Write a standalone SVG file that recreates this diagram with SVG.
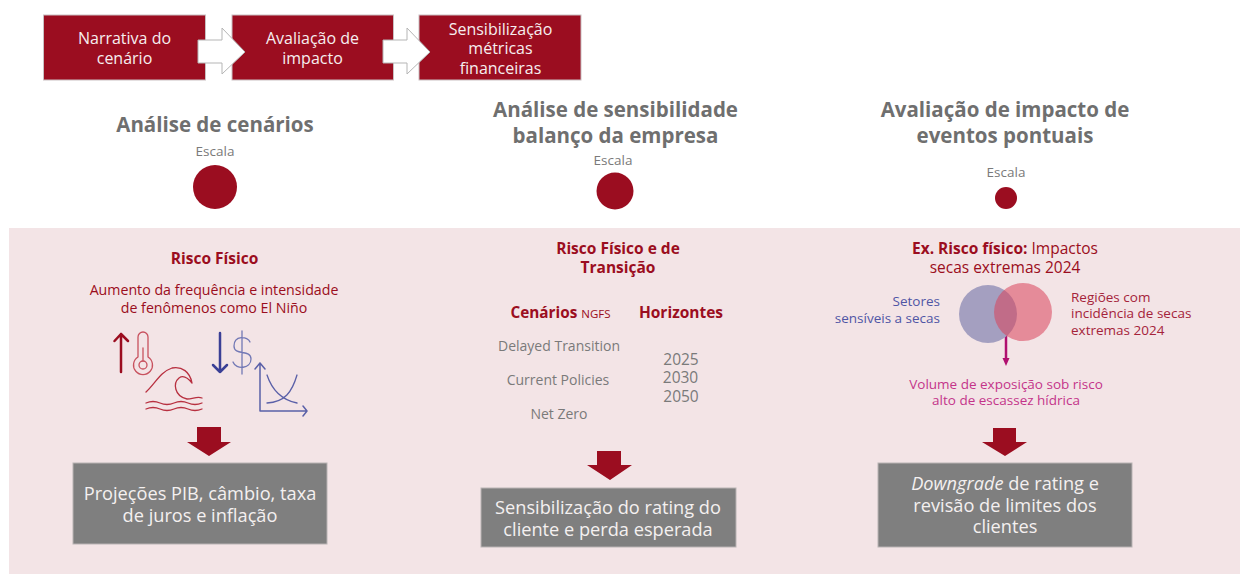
<svg xmlns="http://www.w3.org/2000/svg" width="1240" height="574" viewBox="0 0 1240 574">
<style>
text{font-family:"Open Sans","Liberation Sans",sans-serif;text-anchor:middle}
.step{fill:#9b0d20;stroke:#c9c0c2;stroke-width:1}
.st{fill:#f6eeef;font-size:16px}
.flow{fill:#fff;stroke:#b5b5b5;stroke-width:1}
.h{fill:#6f6f6f;font-size:20.500px;font-weight:700}
.esc{fill:#7a7a7a;font-size:13.500px}
.dot{fill:#9b0d20}
.r{fill:#9b0d20;font-size:14.200px}
.rb{fill:#9b0d20;font-size:15.500px;font-weight:700}
.g{fill:#7a7a7a;font-size:14px}
.n{fill:#7a7a7a;font-size:15.500px}
.dn{fill:#9b0d20}
.box{fill:#7f7f7f;stroke:#b9b3b4;stroke-width:1}
.bt{fill:#f4f0f0;font-size:18.200px}
.ico{fill:none;stroke-linecap:round;stroke-linejoin:round}
.lab{font-size:13.500px}
</style>
<rect width="1240" height="574" fill="#fff"/>
<rect id="panel" x="9" y="228" width="1231" height="346" fill="#f3e4e6"/>
<g id="step1"><rect class="step" x="43.500" y="15" width="162" height="65"/><text class="st" x="124.500" y="43.500">Narrativa do</text><text class="st" x="124.500" y="63.500">cenário</text></g>
<g id="step2"><rect class="step" x="232" y="15" width="161.500" height="65"/><text class="st" x="312.500" y="43.500">Avaliação de</text><text class="st" x="312.500" y="63.500">impacto</text></g>
<g id="step3"><rect class="step" x="419" y="15" width="162" height="65"/><text class="st" x="500.500" y="34.500">Sensibilização</text><text class="st" x="500.500" y="53.500">métricas</text><text class="st" x="500.500" y="73.500">financeiras</text></g>
<g id="connectors">
<path class="flow" d="M198 40H222V28L245 52 222 74V63H198Z"/>
<path class="flow" d="M383 40H407V28L430 52 407 74V63H383Z"/>
<path class="dn" d="M197 427H221V442H231L209 456 187 442H197Z"/>
<path class="dn" d="M597 451H621V465H632L610 480 587 465H597Z"/>
<path class="dn" d="M993 428H1016V442H1027L1005 456 982 442H993Z"/>
<path d="M1006 327V360" stroke="#b00f6f" stroke-width="2.500" fill="none"/>
<path d="M1002.500 358H1009.500L1006 366Z" fill="#b00f6f"/>
</g>
<g id="col1-head"><text class="h" x="215" y="131.500">Análise de cenários</text><text class="esc" x="215" y="155.500">Escala</text><circle class="dot" cx="215" cy="187" r="22"/></g>
<g id="col2-head"><text class="h" x="615.500" y="116.500">Análise de sensibilidade</text><text class="h" x="615.500" y="142.500">balanço da empresa</text><text class="esc" x="613" y="164.500">Escala</text><circle class="dot" cx="615" cy="191" r="18.500"/></g>
<g id="col3-head"><text class="h" x="1005" y="116.500">Avaliação de impacto de</text><text class="h" x="1005" y="142.500">eventos pontuais</text><text class="esc" x="1006" y="176.500">Escala</text><circle class="dot" cx="1006" cy="198" r="11"/></g>
<g id="col1">
<text class="rb" x="214.500" y="263.500">Risco Físico</text>
<text class="r" x="214" y="294.500">Aumento da frequência e intensidade</text>
<text class="r" x="214" y="312.500">de fenômenos como El Niño</text>
<g id="icons">
<path class="ico" d="M121 372V334M114.500 341L121 334 128 341" stroke="#9b0d20" stroke-width="2.500"/>
<path class="ico" d="M138 357V337a5 5 0 0 1 10 0V357a9.500 9.500 0 1 1-10 0Z" stroke="#c8525f" stroke-width="1.300"/>
<circle class="ico" cx="143" cy="365" r="4" stroke="#c8525f" stroke-width="1.300"/>
<path class="ico" d="M143 348V361" stroke="#c8525f" stroke-width="1.300"/>
<path class="ico" d="M146 392C155 384 160 372 172 368 182 366 190 372 192 383 188 378 183 375 179 378 173 383 174 396 187 399 193 399 197 396 202 398" stroke="#b83040" stroke-width="1.300"/>
<path class="ico" d="M146 403q7-3 14 0t14 0 14 0 14 0M146 409q7-3 14 0t14 0 14 0 14 0" stroke="#b83040" stroke-width="1.300"/>
<path class="ico" d="M220 333V372M213 365L220 372 227 365" stroke="#3a3f96" stroke-width="2.500"/>
<path class="ico" d="M242 331V374M250 342C248 336 234 335 234 346 234 356 251 349 251 359 251 369 236 370 233 362" stroke="#7278b5" stroke-width="1.300"/>
<path class="ico" d="M260 411V363M255 369L260 363 265 369M260 411H307M303 406L307 411 303 416" stroke="#5a60a8" stroke-width="1.500"/>
<path class="ico" d="M267 375C272 390 282 400 297 403M267 403C285 402 292 392 297 375" stroke="#5a60a8" stroke-width="1.300"/>
</g>
</g>
<g id="box1"><rect class="box" x="73" y="463" width="254" height="81"/><text class="bt" x="200" y="500">Projeções PIB, câmbio, taxa</text><text class="bt" x="200" y="522">de juros e inflação</text></g>
<g id="col2">
<text class="rb" x="618" y="253.500">Risco Físico e de</text><text class="rb" x="618" y="272.500">Transição</text>
<text x="560.500" y="317.500" style="fill:#9b0d20;font-size:15.300px;font-weight:700">Cenários <tspan style="font-size:11.500px;font-weight:400">NGFS</tspan></text>
<text class="rb" x="681" y="317.500">Horizontes</text>
<text class="g" x="559" y="350.500">Delayed Transition</text><text class="g" x="558" y="384.500">Current Policies</text><text class="g" x="559" y="418.500">Net Zero</text>
<text class="n" x="681" y="364.500">2025</text><text class="n" x="680.500" y="383">2030</text><text class="n" x="681" y="401.500">2050</text>
</g>
<g id="box2"><rect class="box" x="481" y="488" width="255" height="59"/><text class="bt" x="608" y="514">Sensibilização do rating do</text><text class="bt" x="608" y="536">cliente e perda esperada</text></g>
<g id="col3">
<text class="rb" x="1005" y="254"><tspan font-weight="700">Ex. Risco físico:</tspan><tspan font-weight="400"> Impactos</tspan></text>
<text class="rb" x="1005" y="273" style="font-weight:400">secas extremas 2024</text>
<circle cx="988" cy="314" r="29" fill="#a49fc0"/>
<circle cx="1023" cy="312" r="29" fill="#d9415a" fill-opacity=".55"/>
<text class="lab" x="940" y="305.500" style="fill:#4f55a5;text-anchor:end">Setores</text>
<text class="lab" x="940" y="322.500" style="fill:#4f55a5;text-anchor:end">sensíveis a secas</text>
<text class="lab" x="1071" y="301.500" style="fill:#a5233a;text-anchor:start">Regiões com</text>
<text class="lab" x="1071" y="318" style="fill:#a5233a;text-anchor:start">incidência de secas</text>
<text class="lab" x="1071" y="334.500" style="fill:#a5233a;text-anchor:start">extremas 2024</text>
<text class="lab" x="1006" y="389" style="fill:#c4348a">Volume de exposição sob risco</text>
<text class="lab" x="1006" y="405" style="fill:#c4348a">alto de escassez hídrica</text>
</g>
<g id="box3"><rect class="box" x="878" y="463" width="254" height="84"/><text class="bt" x="1005" y="490"><tspan font-style="italic">Downgrade</tspan> de rating e</text><text class="bt" x="1005" y="512">revisão de limites dos</text><text class="bt" x="1005" y="533">clientes</text></g>
</svg>
